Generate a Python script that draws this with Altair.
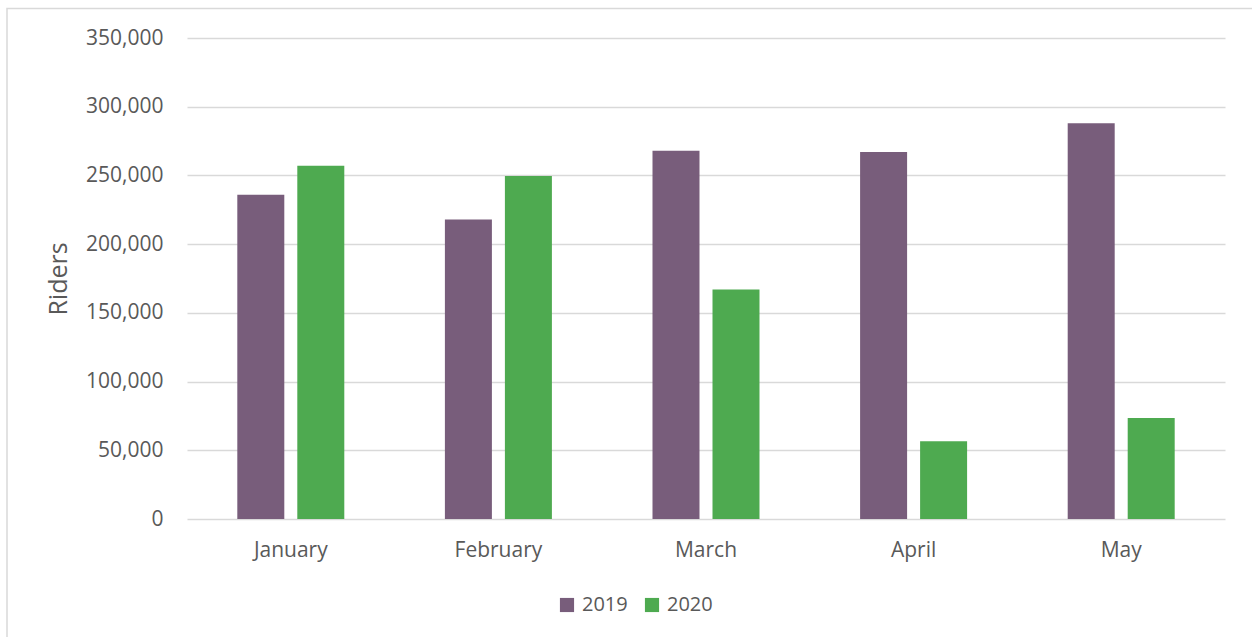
import altair as alt
import pandas as pd

months = ["January", "February", "March", "April", "May"]
riders_2019 = [236000, 218000, 268000, 267000, 288000]
riders_2020 = [257000, 249500, 167000, 56500, 73500]
years = ["2019", "2020"]
colors = ["#785d7b", "#4eaa50"]
y_ticks = [0, 50000, 100000, 150000, 200000, 250000, 300000, 350000]

rows = []
for m, a, b in zip(months, riders_2019, riders_2020):
    rows.append({"Month": m, "Year": "2019", "Riders": a})
    rows.append({"Month": m, "Year": "2020", "Riders": b})
df = pd.DataFrame(rows)

FONT = "Open Sans"
TEXT = "#595959"

bars = alt.Chart(df).mark_bar().encode(
    x=alt.X(
        "Month:N",
        sort=months,
        scale=alt.Scale(paddingInner=0.4846, paddingOuter=0.2423),
        axis=alt.Axis(
            title=None, labelAngle=0, labelFontSize=21, labelColor=TEXT,
            labelFont=FONT, labelPadding=20, ticks=False, domain=False,
            grid=False,
        ),
    ),
    xOffset=alt.XOffset("Year:N", scale=alt.Scale(paddingInner=0.2167, paddingOuter=0)),
    y=alt.Y(
        "Riders:Q",
        scale=alt.Scale(domain=[0, 350000], nice=False),
        axis=alt.Axis(
            values=y_ticks, format=",d", labelFontSize=21, labelColor=TEXT,
            labelFont=FONT, labelPadding=24, ticks=False, domain=False,
            gridColor="#d9d9d9", gridWidth=1.5,
            title="Riders", titleFontSize=25, titleFontWeight="normal",
            titleColor=TEXT, titleFont=FONT, titleX=-129, titleY=240.5,
            titleAngle=-90, titleAlign="center", titleBaseline="middle",
        ),
    ),
    color=alt.Color(
        "Year:N",
        scale=alt.Scale(domain=years, range=colors),
        legend=alt.Legend(
            title=None, orient="none", direction="horizontal",
            legendX=370, legendY=557, symbolType="square", symbolSize=200,
            symbolStrokeWidth=0, labelFontSize=20, labelColor=TEXT,
            labelFont=FONT, columnPadding=14, labelOffset=5,
        ),
    ),
)

# light frame around the whole chart
frame = alt.Chart(pd.DataFrame({"k": [0]})).mark_rect(
    fill=None, stroke="#d9d9d9", strokeWidth=1.5
).encode(
    x=alt.value(-180), x2=alt.value(1100), y=alt.value(-29.5), y2=alt.value(650)
)

chart = alt.layer(frame, bars).properties(
    width=1038, height=481,
    padding={"left": 187, "top": 38, "right": 27, "bottom": 118},
    autosize=alt.AutoSizeParams(type="none"),
    background="white",
).configure_view(stroke=None)

chart.save("out.html", embed_options={"renderer": "svg", "actions": False})
